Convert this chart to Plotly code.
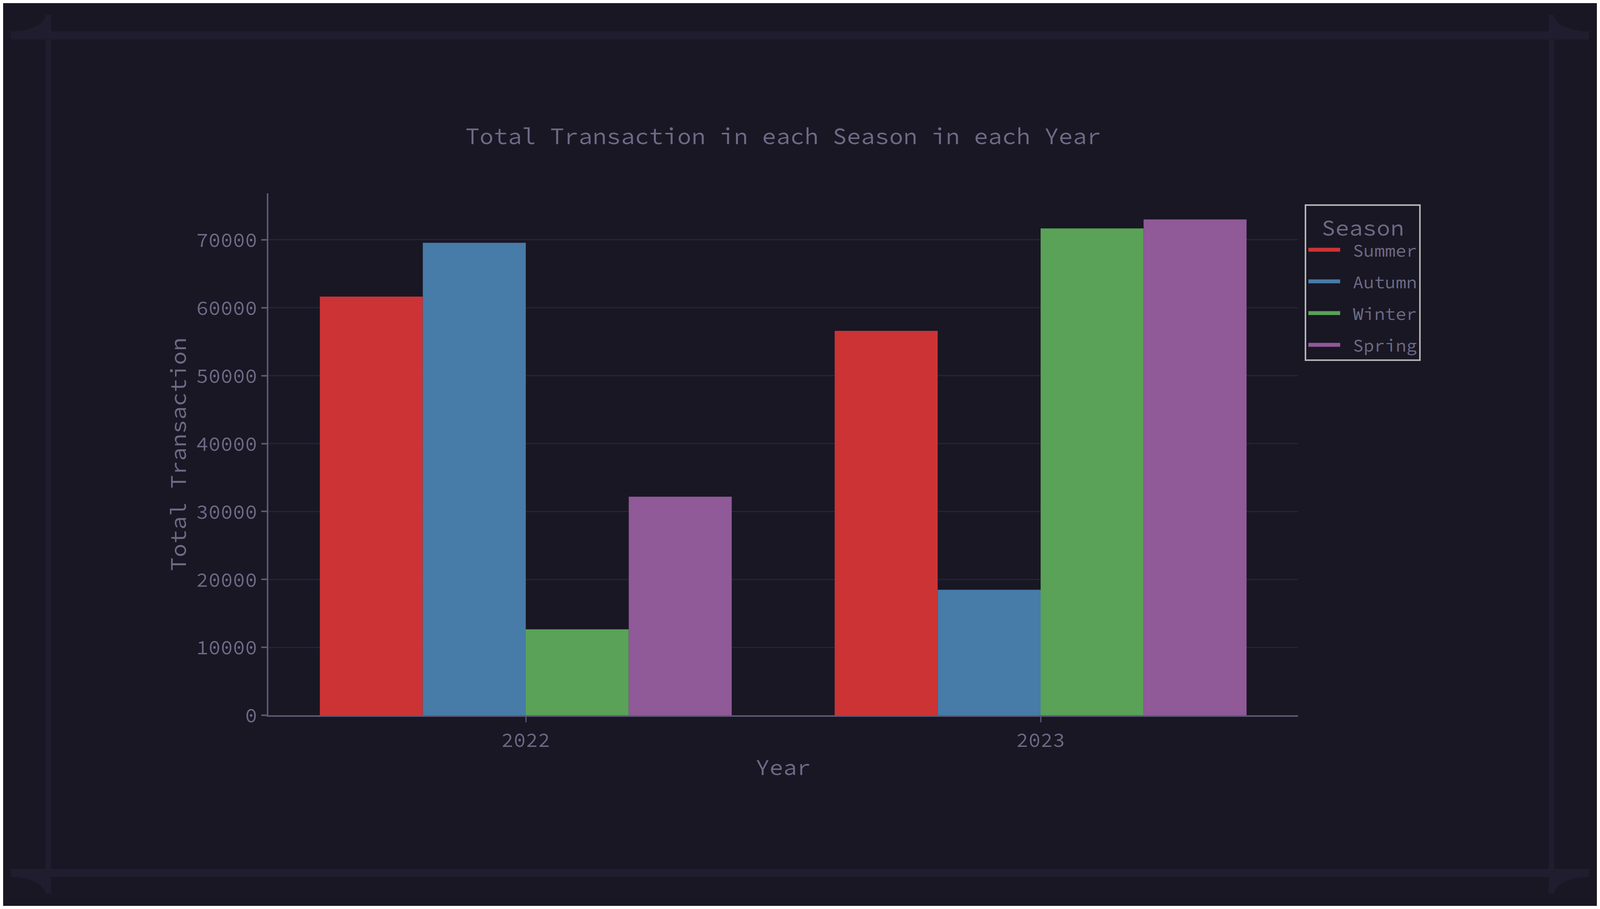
import plotly.graph_objects as go

# data
years = ["2022", "2023"]
seasons = ["Summer", "Autumn", "Winter", "Spring"]
summer = [61650, 56600]
autumn = [69570, 18480]
winter = [12660, 71680]
spring = [32180, 73000]
season_values = [summer, autumn, winter, spring]
season_colors = ["#cc3335", "#477ba8", "#59a257", "#905998"]

BG = "#191724"
FRAME = "#1f1d2e"
TEXT = "#6e6a86"
GRID = "#26233a"
AXIS = "#5c5876"

# page geometry of the reference, in pixels
W, H = 6108, 2327
L, R, T, B = 1017, 1145, 490, 491
PW, PH = W - L - R, H - T - B


def px(x):
    return (x - L) / PW


def py(y):
    return (H - B - y) / PH


fig = go.Figure()

for name, vals, col in zip(seasons, season_values, season_colors):
    fig.add_trace(go.Bar(x=years, y=vals, name=name, marker_color=col,
                         marker_line_width=0, showlegend=False, legendgroup=name))

# legend swatches as thick lines (wide rectangles in the reference)
for name, col in zip(seasons, season_colors):
    fig.add_trace(go.Scatter(x=[None], y=[None], mode="lines", name="\u00a0" + name,
                             line=dict(color=col, width=10), legendgroup=name))

# decorative frame around the page
shapes = []
bands = [(30, 72, 6078, 93), (30, 2232, 6078, 2253),
         (163, 30, 185, 2297), (5923, 30, 5945, 2297)]
for x0, y0, x1, y1 in bands:
    shapes.append(dict(type="rect", xref="paper", yref="paper", layer="below",
                       x0=px(x0), x1=px(x1), y0=py(y0), y1=py(y1),
                       fillcolor=FRAME, line_width=0))

k = 0.5523
corners = [(30, 30, 163, 72), (6078, 30, 5945, 72),
           (30, 2297, 163, 2253), (6078, 2297, 5945, 2253)]
for cx, cy, ex, ey in corners:
    c1 = (ex, cy + k * (ey - cy))
    c2 = (cx + k * (ex - cx), ey)
    path = "M{:.5f},{:.5f} L{:.5f},{:.5f} L{:.5f},{:.5f} C{:.5f},{:.5f} {:.5f},{:.5f} {:.5f},{:.5f} Z".format(
        px(cx), py(ey), px(ex), py(ey), px(ex), py(cy),
        px(c1[0]), py(c1[1]), px(c2[0]), py(c2[1]), px(cx), py(ey))
    shapes.append(dict(type="path", xref="paper", yref="paper", layer="below",
                       path=path, fillcolor=FRAME, line_width=0))

font = "Source Code Pro, DejaVu Sans Mono, monospace"

fig.update_layout(
    autosize=True,
    margin=dict(l=L, r=R, t=T, b=B, pad=0),
    paper_bgcolor=BG, plot_bgcolor=BG,
    font=dict(family=font, color=TEXT, size=64),
    barmode="group", bargap=0.2, bargroupgap=0,
    title=dict(text="Total Transaction in each Season in each Year",
               font=dict(size=74, color=TEXT), x=0.5, xref="paper", xanchor="center",
               y=1 - 342 / H, yref="container", yanchor="middle"),
    legend=dict(title=dict(text="Season", side="top center", font=dict(size=72, color=TEXT)),
                font=dict(size=56, color=TEXT), bgcolor=BG,
                bordercolor="#b4b4b4", borderwidth=4,
                x=px(4989), xanchor="left", y=py(518), yanchor="top",
                itemwidth=100, tracegroupgap=19),
    shapes=shapes,
)

fig.update_xaxes(title=dict(text="Year", font=dict(size=72, color=TEXT), standoff=20),
                 type="category", showgrid=False, showline=True, linecolor=AXIS, linewidth=4,
                 ticks="outside", ticklen=14, tickwidth=3, tickcolor=AXIS,
                 tickfont=dict(size=64, color=TEXT), automargin=False)
fig.update_yaxes(title=dict(text="Total Transaction", font=dict(size=72, color=TEXT), standoff=12),
                 showgrid=True, gridcolor=GRID, gridwidth=3, zeroline=False,
                 showline=True, linecolor=AXIS, linewidth=4,
                 ticks="outside", ticklen=14, tickwidth=4, tickcolor=AXIS,
                 tickfont=dict(size=64, color=TEXT), dtick=10000, tickformat="d",
                 automargin=False)

# keep the margins proportional if the page is not exactly W x H
post = """
var gd = document.getElementById('{plot_id}');
var sx = gd._fullLayout.width / %d, sy = gd._fullLayout.height / %d;
if (Math.abs(sx - 1) > 0.01 || Math.abs(sy - 1) > 0.01) {
  var f = Math.sqrt(sx * sy);
  Plotly.relayout(gd, {
    'margin.l': %d * sx, 'margin.r': %d * sx, 'margin.t': %d * sy, 'margin.b': %d * sy,
    'font.size': 64 * f, 'title.font.size': 74 * f,
    'legend.font.size': 56 * f, 'legend.title.font.size': 72 * f,
    'legend.itemwidth': Math.max(30, 100 * f), 'legend.tracegroupgap': 19 * sy,
    'xaxis.title.font.size': 72 * f, 'yaxis.title.font.size': 72 * f,
    'xaxis.tickfont.size': 64 * f, 'yaxis.tickfont.size': 64 * f,
    'xaxis.title.standoff': 20 * sy, 'yaxis.title.standoff': 12 * sx
  });
}
""" % (W, H, L, R, T, B)

fig.write_html("out.html", post_script=post)
